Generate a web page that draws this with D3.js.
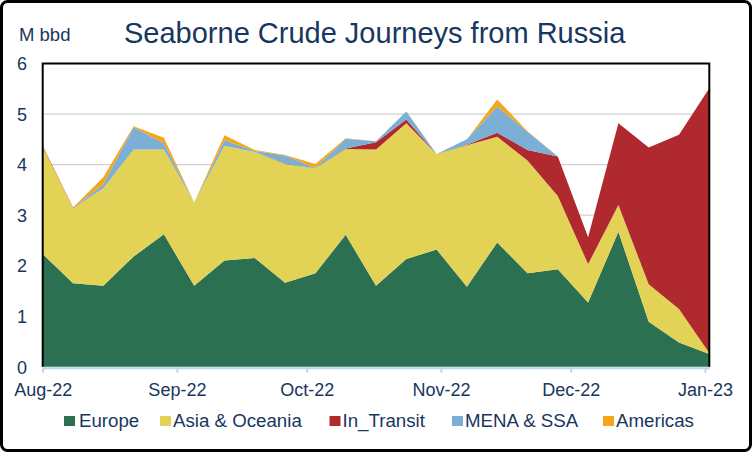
<!DOCTYPE html>
<html><head><meta charset="utf-8">
<script src="https://cdn.jsdelivr.net/npm/d3@7"></script>
<style>html,body{margin:0;padding:0;background:#fff;}svg{display:block;font-family:"Liberation Sans",Arial,sans-serif;}</style>
</head><body><svg id="c" width="752" height="452"></svg>
<script>
const weeks = ["2022-08-01","2022-08-08","2022-08-15","2022-08-22","2022-08-29","2022-09-05","2022-09-12","2022-09-19","2022-09-26","2022-10-03","2022-10-10","2022-10-17","2022-10-24","2022-10-31","2022-11-07","2022-11-14","2022-11-21","2022-11-28","2022-12-05","2022-12-12","2022-12-19","2022-12-26","2023-01-02"];
const europe    = [2.23,1.65,1.60,2.18,2.62,1.60,2.10,2.15,1.66,1.85,2.61,1.60,2.13,2.32,1.58,2.46,1.85,1.93,1.27,2.67,0.89,0.48,0.25];
const asia      = [2.13,1.49,1.93,2.12,1.68,1.65,2.27,2.10,2.35,2.07,1.70,2.70,2.69,1.89,2.80,2.09,2.23,1.45,0.76,0.53,0.74,0.66,0.02];
const inTransit = [0.01,0.01,0,0,0,0,0,0,0.01,0,0.01,0.14,0.07,0,0.01,0.08,0.21,0.78,0.53,1.62,2.71,3.45,5.24];
const mena      = [0,0,0.08,0.44,0.12,0,0.11,0.02,0.16,0.01,0.19,0.02,0.16,0,0.11,0.52,0.36,0,0,0,0,0,0];
const americas  = [0,0,0.14,0.02,0.11,0,0.10,0.02,0.01,0.08,0.01,0,0,0,0,0.14,0.01,0,0,0,0,0,0];
const seriesNames = ["Europe","Asia & Oceania","In_Transit","MENA & SSA","Americas"];
const yTicks = [0,1,2,3,4,5,6];
const monthTicks = ["2022-08-01","2022-09-01","2022-10-01","2022-11-01","2022-12-01","2023-01-01"];
const title = "Seaborne Crude Journeys from Russia";
const unitLabel = "M bbd";

const colors = ["#2B7151","#E2D256","#B0292F","#7BAFD5","#F5A61C"];
const textColor = "#17375E";
const parse = d3.utcParse("%Y-%m-%d");
const fmt = d3.utcFormat("%b-%y");

const rows = weeks.map((w,i)=>({date:parse(w),"Europe":europe[i],"Asia & Oceania":asia[i],"In_Transit":inTransit[i],"MENA & SSA":mena[i],"Americas":americas[i]}));

const svg = d3.select("#c");
const L=42.7, R=709.3, T=63.5, B=366.7;
const x = d3.scaleUtc().domain([parse(weeks[0]), parse(weeks[weeks.length-1])]).range([L,R]);
const y = d3.scaleLinear().domain([0,6]).range([B,T]);

// outer frame
svg.append("rect").attr("x",1.5).attr("y",1.5).attr("width",749).attr("height",449).attr("rx",6)
  .attr("fill","#fff").attr("stroke","#000").attr("stroke-width",3);

// gridlines
svg.append("g").selectAll("line").data(yTicks.filter(t=>t>0&&t<6)).join("line")
  .attr("x1",L).attr("x2",R).attr("y1",d=>y(d)).attr("y2",d=>y(d))
  .attr("stroke","#D0D0D0").attr("stroke-width",1.2);

// stacked areas
const stack = d3.stack().keys(seriesNames)(rows);
const area = d3.area().x(d=>x(d.data.date)).y0(d=>y(d[0])).y1(d=>y(d[1]));
svg.append("g").selectAll("path").data(stack).join("path")
  .attr("d",area).attr("fill",(d,i)=>colors[i]);

// plot border (top, left, right)
svg.append("path").attr("d",`M${L},${B} V${T} H${R} V${B}`).attr("fill","none").attr("stroke","#000").attr("stroke-width",2);

// x axis
const xAxis = d3.axisBottom(x).tickValues(monthTicks.map(parse)).tickFormat(fmt).tickSize(5).tickSizeOuter(0);
const gx = svg.append("g").attr("transform",`translate(0,${B+1})`).call(xAxis);
gx.select(".domain").attr("stroke","#BDD7EE").attr("stroke-width",2);
gx.selectAll(".tick line").attr("stroke","#BDD7EE").attr("stroke-width",2);
gx.selectAll(".tick text").attr("fill",textColor).attr("font-size",18).attr("font-family","Liberation Sans, Arial, sans-serif").attr("dy",0).attr("y",28);

// y axis labels
const yAxis = d3.axisLeft(y).tickValues(yTicks).tickFormat(d3.format("d")).tickSize(0);
const gy = svg.append("g").attr("transform",`translate(27,0)`).call(yAxis);
gy.select(".domain").remove();
gy.selectAll(".tick text").attr("fill",textColor).attr("font-size",18).attr("font-family","Liberation Sans, Arial, sans-serif").attr("x",0).attr("dy","0.35em");

// titles
svg.append("text").attr("x",19).attr("y",41).attr("fill",textColor).attr("font-size",18.5).text(unitLabel);
svg.append("text").attr("x",124).attr("y",43).attr("fill",textColor).attr("font-size",29).text(title);

// legend
const legX = [64,160,329.5,452,603];
const lg = svg.append("g").selectAll("g").data(seriesNames).join("g")
  .attr("transform",(d,i)=>`translate(${legX[i]},0)`);
lg.append("rect").attr("x",0).attr("y",416).attr("width",11).attr("height",10).attr("fill",(d,i)=>colors[i]);
lg.append("text").attr("x",(d,i)=>i===0?15:13).attr("y",427).attr("fill",textColor).attr("font-size",18.7).text(d=>d);
</script></body></html>
